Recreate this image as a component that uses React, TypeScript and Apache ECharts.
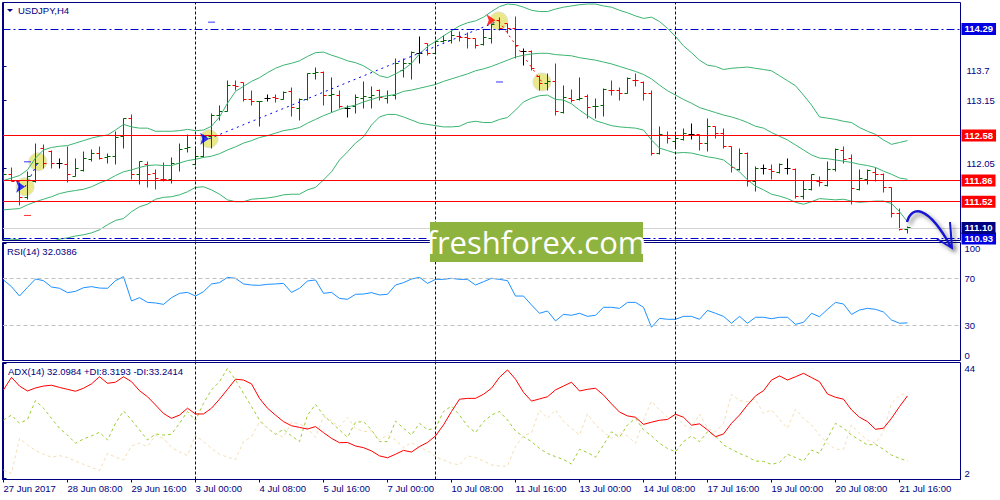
import React, { useEffect, useRef } from "react";
import * as echarts from "echarts";

const tickBars = [0, 8, 16, 24, 32, 40, 48, 56, 64, 72, 80, 88, 96, 104, 112];
const tickLabels = ["27 Jun 2017", "28 Jun 08:00", "29 Jun 16:00", "3 Jul 00:00", "4 Jul 08:00", "5 Jul 16:00", "7 Jul 00:00", "10 Jul 08:00", "11 Jul 16:00", "13 Jul 00:00", "14 Jul 08:00", "17 Jul 16:00", "19 Jul 00:00", "20 Jul 08:00", "21 Jul 16:00"];
const sessionBars = [24, 54, 84];

const opens = [
  111.84, 111.96, 111.84, 111.59, 111.84, 112.38, 112.32, 112.13, 112.12, 111.93,
  112.02, 112.20, 112.29, 112.23, 112.24, 112.57, 112.86, 111.96, 112.12, 111.98,
  111.88, 111.87, 112.14, 112.38, 112.12, 112.24, 112.56, 112.90, 112.97, 113.38,
  113.43, 113.16, 113.12, 113.18, 113.19, 113.16, 113.28, 113.02, 113.16, 113.57,
  113.60, 113.23, 113.23, 113.02, 113.04, 113.18, 113.19, 113.31, 113.18, 113.23,
  113.62, 113.74, 113.90, 114.05, 113.90, 114.09, 114.10, 114.17, 114.15, 114.14,
  114.04, 114.14, 114.43, 114.38, 114.30, 113.93, 113.93, 113.53, 113.41, 113.44,
  112.95, 113.18, 113.16, 113.20, 113.04, 113.07, 113.31, 113.30, 113.26, 113.47,
  113.43, 113.25, 112.30, 112.58, 112.48, 112.52, 112.60, 112.59, 112.46, 112.72,
  112.62, 112.40, 112.03, 112.30, 111.84, 112.05, 112.03, 111.99, 112.05, 112.03,
  111.60, 111.71, 111.84, 111.78, 112.03, 112.34, 112.22, 111.71, 111.88, 111.99,
  111.96, 111.75, 111.33, 111.08,
];
const highs = [
  112.00, 112.07, 111.83, 112.00, 112.46, 112.44, 112.34, 112.21, 112.41, 112.22,
  112.32, 112.36, 112.41, 112.30, 112.64, 112.86, 112.92, 112.17, 112.17, 112.04,
  112.15, 112.23, 112.46, 112.60, 112.40, 112.60, 112.94, 113.07, 113.46, 113.46,
  113.43, 113.30, 113.13, 113.24, 113.24, 113.28, 113.35, 113.17, 113.58, 113.68,
  113.61, 113.51, 113.31, 113.06, 113.24, 113.45, 113.37, 113.32, 113.30, 113.81,
  113.81, 113.93, 114.17, 114.06, 114.10, 114.19, 114.27, 114.25, 114.24, 114.14,
  114.28, 114.38, 114.48, 114.38, 114.49, 113.98, 113.95, 113.55, 113.57, 113.73,
  113.38, 113.32, 113.51, 113.24, 113.18, 113.33, 113.46, 113.35, 113.51, 113.57,
  113.45, 113.30, 112.73, 112.64, 112.59, 112.69, 112.77, 112.60, 112.86, 112.72,
  112.69, 112.41, 112.38, 112.31, 112.09, 112.11, 112.12, 112.14, 112.22, 112.06,
  111.86, 111.96, 111.92, 112.17, 112.38, 112.41, 112.27, 112.03, 112.04, 112.07,
  111.98, 111.75, 111.41, 111.13,
];
const lows = [
  111.83, 111.84, 111.46, 111.56, 111.83, 112.06, 112.05, 112.06, 111.83, 111.92,
  112.00, 112.16, 112.20, 112.14, 112.12, 112.37, 111.88, 111.80, 111.74, 111.71,
  111.84, 111.82, 112.00, 112.31, 112.10, 112.23, 112.38, 112.82, 112.96, 113.30,
  113.13, 113.07, 112.72, 113.13, 113.11, 113.16, 112.88, 112.82, 113.14, 113.48,
  113.07, 112.95, 113.02, 112.87, 112.94, 113.02, 113.02, 113.14, 113.10, 113.16,
  113.51, 113.48, 113.74, 113.86, 113.89, 114.07, 114.05, 114.09, 113.97, 113.97,
  114.02, 114.06, 114.26, 114.21, 113.82, 113.70, 113.63, 113.30, 113.31, 112.91,
  112.94, 113.11, 113.14, 112.85, 112.86, 112.88, 113.23, 113.15, 113.25, 113.36,
  113.14, 112.26, 112.28, 112.46, 112.38, 112.50, 112.51, 112.34, 112.32, 112.54,
  112.38, 111.99, 112.02, 111.76, 111.68, 111.96, 111.87, 111.98, 111.96, 111.57,
  111.56, 111.70, 111.77, 111.76, 112.00, 112.14, 111.47, 111.70, 111.80, 111.84,
  111.66, 111.26, 111.06, 111.01,
];
const closes = [
  111.96, 111.85, 111.59, 111.92, 112.14, 112.14, 112.14, 112.13, 111.96, 112.06,
  112.22, 112.30, 112.22, 112.24, 112.55, 112.86, 111.96, 112.16, 111.95, 111.90,
  111.87, 112.14, 112.35, 112.39, 112.24, 112.57, 112.90, 112.97, 113.38, 113.36,
  113.16, 113.13, 113.13, 113.18, 113.17, 113.27, 113.03, 113.16, 113.57, 113.60,
  113.22, 113.24, 113.04, 113.02, 113.19, 113.20, 113.23, 113.19, 113.22, 113.74,
  113.74, 113.92, 113.90, 113.90, 114.09, 114.11, 114.19, 114.15, 114.14, 114.03,
  114.15, 114.37, 114.29, 114.30, 114.02, 113.93, 113.66, 113.42, 113.45, 112.96,
  113.19, 113.15, 113.18, 113.03, 113.05, 113.32, 113.30, 113.26, 113.50, 113.46,
  113.26, 112.30, 112.59, 112.54, 112.54, 112.62, 112.60, 112.46, 112.72, 112.62,
  112.41, 112.07, 112.30, 111.84, 112.06, 112.05, 112.00, 112.12, 112.05, 111.61,
  111.71, 111.96, 111.83, 112.03, 112.35, 112.20, 111.73, 111.90, 112.02, 111.95,
  111.75, 111.33, 111.07, 111.11,
];
const bandUpper = [
  111.86, 111.90, 111.94, 112.03, 112.22, 112.35, 112.39, 112.41, 112.42, 112.46,
  112.50, 112.54, 112.57, 112.59, 112.67, 112.76, 112.72, 112.70, 112.70, 112.65,
  112.65, 112.65, 112.66, 112.68, 112.66, 112.67, 112.73, 112.88, 113.10, 113.29,
  113.37, 113.45, 113.51, 113.59, 113.66, 113.71, 113.74, 113.78, 113.85, 113.91,
  113.92, 113.87, 113.83, 113.78, 113.75, 113.70, 113.62, 113.54, 113.51, 113.57,
  113.64, 113.74, 113.89, 114.01, 114.09, 114.18, 114.26, 114.34, 114.39, 114.42,
  114.48, 114.57, 114.65, 114.69, 114.68, 114.64, 114.59, 114.57, 114.57, 114.61,
  114.64, 114.66, 114.68, 114.69, 114.69, 114.66, 114.64, 114.59, 114.55, 114.50,
  114.46, 114.48, 114.41, 114.30, 114.17, 114.02, 113.91, 113.79, 113.71, 113.69,
  113.64, 113.66, 113.67, 113.68, 113.66, 113.64, 113.62, 113.54, 113.46, 113.38,
  113.23, 113.07, 112.88, 112.86, 112.84, 112.81, 112.79, 112.71, 112.65, 112.60,
  112.51, 112.44, 112.47, 112.50,
];
const bandMiddle = [
  111.39, 111.40, 111.41, 111.47, 111.52, 111.56, 111.60, 111.65, 111.68, 111.70,
  111.72, 111.76, 111.82, 111.87, 111.94, 112.00, 112.03, 112.07, 112.10, 112.11,
  112.10, 112.10, 112.14, 112.18, 112.20, 112.23, 112.25, 112.29, 112.35, 112.40,
  112.46, 112.50, 112.55, 112.58, 112.62, 112.66, 112.68, 112.71, 112.78, 112.84,
  112.90, 112.95, 113.00, 113.04, 113.07, 113.12, 113.16, 113.20, 113.22, 113.24,
  113.29, 113.31, 113.34, 113.37, 113.40, 113.45, 113.49, 113.53, 113.57, 113.62,
  113.65, 113.69, 113.74, 113.79, 113.84, 113.87, 113.89, 113.90, 113.90, 113.88,
  113.87, 113.86, 113.83, 113.81, 113.79, 113.76, 113.73, 113.69, 113.65, 113.61,
  113.56, 113.49, 113.39, 113.30, 113.23, 113.16, 113.10, 113.03, 112.99, 112.95,
  112.91, 112.88, 112.84, 112.79, 112.73, 112.70, 112.63, 112.57, 112.51, 112.43,
  112.35, 112.27, 112.22, 112.21, 112.19, 112.17, 112.15, 112.12, 112.10, 112.07,
  112.01, 111.96, 111.90, 111.88,
];
const bandLower = [
  110.92, 110.92, 110.91, 110.88, 110.86, 110.86, 110.88, 110.92, 110.94, 110.97,
  110.99, 111.02, 111.07, 111.15, 111.22, 111.25, 111.36, 111.44, 111.48, 111.56,
  111.59, 111.60, 111.63, 111.68, 111.75, 111.76, 111.71, 111.64, 111.55, 111.52,
  111.52, 111.56, 111.57, 111.58, 111.60, 111.63, 111.64, 111.64, 111.71, 111.75,
  111.87, 112.00, 112.19, 112.32, 112.46, 112.56, 112.75, 112.88, 112.92, 112.92,
  112.88, 112.83, 112.78, 112.76, 112.74, 112.72, 112.72, 112.73, 112.79, 112.81,
  112.79, 112.79, 112.84, 112.87, 112.99, 113.12, 113.18, 113.22, 113.23, 113.16,
  113.15, 113.09, 112.99, 112.90, 112.82, 112.78, 112.74, 112.72, 112.71, 112.70,
  112.67, 112.51, 112.38, 112.34, 112.30, 112.31, 112.30, 112.27, 112.24, 112.22,
  112.19, 112.09, 112.00, 111.87, 111.77, 111.71, 111.64, 111.61, 111.57, 111.51,
  111.48, 111.52, 111.57, 111.56, 111.55, 111.56, 111.53, 111.51, 111.52, 111.53,
  111.53, 111.49, 111.36, 111.20,
];
const rsiValues = [
  68.6, 62.9, 54.9, 62.3, 69.4, 68.0, 62.6, 61.5, 57.8, 58.9,
  62.0, 62.9, 61.7, 61.5, 68.0, 71.4, 50.7, 53.5, 49.5, 49.0,
  47.8, 53.5, 57.2, 58.0, 54.9, 58.6, 65.2, 66.3, 70.8, 70.0,
  65.2, 64.3, 64.0, 64.9, 65.2, 65.7, 58.0, 61.5, 67.7, 68.6,
  57.2, 58.0, 52.9, 52.1, 56.4, 56.6, 57.8, 55.8, 56.4, 64.3,
  66.3, 69.4, 70.8, 65.7, 69.1, 69.1, 70.0, 69.1, 69.1, 64.3,
  67.1, 70.0, 69.1, 68.0, 54.9, 54.9, 47.3, 40.2, 42.2, 33.7,
  39.3, 38.5, 40.2, 37.6, 38.5, 45.3, 45.3, 44.4, 49.5, 49.5,
  45.3, 28.3, 35.9, 35.1, 35.1, 37.6, 37.6, 35.1, 42.7, 40.2,
  37.6, 31.7, 37.6, 31.7, 36.8, 36.8, 35.6, 36.8, 36.8, 30.8,
  32.5, 40.2, 37.3, 43.6, 49.5, 48.1, 39.3, 43.0, 44.4, 43.6,
  41.3, 34.5, 31.7, 32.04,
];
const adxValues = [
  34.3, 38.9, 35.7, 33.9, 35.0, 35.7, 36.0, 35.2, 34.5, 33.8,
  34.9, 36.5, 39.1, 36.7, 37.1, 39.1, 37.3, 34.0, 31.8, 28.8,
  25.7, 23.9, 25.1, 27.6, 25.5, 25.5, 27.6, 30.9, 34.5, 38.2,
  37.9, 36.5, 31.2, 27.6, 25.1, 22.7, 21.2, 20.6, 20.0, 20.9,
  18.7, 16.6, 15.0, 15.1, 13.8, 13.2, 12.0, 10.2, 9.5, 10.8,
  12.2, 11.6, 13.6, 15.1, 17.5, 21.5, 26.4, 30.9, 31.2, 31.2,
  32.7, 34.9, 38.9, 41.6, 38.2, 33.4, 30.2, 31.0, 31.8, 34.3,
  35.7, 37.1, 33.9, 34.5, 34.9, 32.4, 29.2, 26.2, 24.8, 24.3,
  21.7, 22.5, 23.2, 23.5, 25.4, 24.3, 21.4, 21.9, 19.7, 17.2,
  18.2, 22.1, 25.1, 28.8, 32.1, 34.0, 37.9, 39.4, 37.9, 39.1,
  40.35, 38.8, 37.3, 32.8, 31.6, 30.9, 27.0, 24.3, 22.7, 19.9,
  20.3, 23.9, 28.2, 32.1,
];
const plusDi = [
  23.3, 25.1, 22.1, 23.5, 30.4, 27.6, 23.9, 20.3, 17.8, 14.8,
  16.4, 17.5, 18.8, 16.0, 22.1, 26.6, 23.3, 19.7, 16.0, 18.2,
  17.8, 18.1, 22.1, 26.4, 23.1, 29.4, 34.3, 37.3, 42.2, 37.9,
  33.0, 28.2, 23.3, 20.3, 18.1, 19.9, 17.5, 15.4, 25.1, 29.0,
  25.1, 22.3, 19.7, 17.0, 22.5, 22.7, 19.7, 15.4, 15.4, 22.9,
  20.3, 17.8, 22.1, 19.7, 20.3, 26.4, 28.4, 25.1, 21.1, 18.7,
  22.7, 25.1, 26.4, 23.3, 19.3, 17.2, 15.4, 12.9, 11.1, 9.9,
  8.9, 7.2, 12.6, 11.4, 9.7, 14.2, 19.0, 17.0, 21.5, 23.9,
  19.7, 17.5, 14.8, 12.9, 11.7, 15.4, 17.5, 15.4, 19.0, 17.5,
  14.2, 12.6, 11.1, 9.9, 8.3, 8.2, 7.1, 7.8, 10.8, 9.6,
  8.3, 12.3, 11.1, 16.6, 22.1, 20.3, 17.8, 16.0, 14.2, 14.4,
  12.6, 10.5, 9.3, 8.32,
];
const minusDi = [
  5.0, 3.8, 16.6, 14.2, 12.1, 10.8, 9.7, 10.3, 9.6, 8.3,
  7.1, 6.0, 4.8, 11.1, 9.7, 8.7, 13.8, 14.8, 13.6, 17.8,
  16.6, 13.3, 11.7, 10.3, 17.8, 15.4, 12.9, 10.8, 9.7, 8.9,
  15.4, 17.2, 22.7, 20.3, 18.4, 17.0, 22.5, 21.9, 20.3, 17.0,
  24.5, 22.9, 20.9, 24.3, 20.3, 19.0, 19.4, 16.0, 17.8, 16.0,
  13.2, 15.1, 13.3, 12.1, 9.9, 8.7, 7.5, 6.9, 10.2, 9.6,
  8.3, 6.9, 6.5, 6.5, 13.6, 17.5, 18.7, 27.0, 23.9, 27.0,
  22.7, 20.3, 17.8, 25.5, 21.5, 19.0, 16.6, 18.7, 17.5, 14.8,
  23.3, 30.2, 27.0, 24.3, 25.1, 21.5, 20.3, 25.5, 20.3, 19.0,
  22.1, 32.7, 30.4, 30.0, 30.9, 25.7, 27.0, 23.5, 20.3, 27.2,
  23.9, 21.5, 17.8, 14.8, 12.6, 12.6, 21.5, 18.4, 16.0, 14.8,
  19.0, 29.4, 32.4, 33.24,
];

const redLevels = [112.58, 111.86, 111.52];
const blueLevels = [114.29, 110.93];
const bidLevel = 111.1;
const priceTicks = [112.05, 113.15, 113.7];
const rsiTicks = [0, 30, 70, 100];
const adxTicks = [2, 44];

const highlightPoints = [[2.7, 111.76], [4.3, 112.16], [25.7, 112.53], [61.9, 114.42], [67.3, 113.44]];
const buyArrows = [[2.7, 111.76], [25.7, 112.53]];
const sellArrows = [[61.5, 114.43]];
const blueDashes = [[3, 112.16], [26, 114.4], [62, 113.44]];
const redDashes = [[3, 111.3]];
const trendShort = [[2.7, 111.76], [4.4, 112.17]];
const trendLong = [[25.7, 112.53], [61.5, 114.4]];
const trendDown = [[61.9, 114.42], [67.3, 113.44]];

const NAVY = "#000080";
const FONT = "Liberation Sans";
const FONT_SIZE = 9.5;
const withIndex = (values: number[]) => values.map((v, i) => [i, v]);

const X_MIN = -0.125;
const X_MAX = 119.625;

const renderBar = (_: any, api: any) => {
  const i = api.value(0);
  const o = api.value(1);
  const h = api.value(2);
  const l = api.value(3);
  const c = api.value(4);
  const color = c > o ? "#006400" : c < o ? "#ff0000" : "#000000";
  const x = Math.round(api.coord([i, o])[0] - 0.5) + 0.5;
  const yOf = (v: number) => Math.round(api.coord([i, v])[1] - 0.5) + 0.5;
  const style = { stroke: color, lineWidth: 1, fill: "none" };
  return {
    type: "group",
    children: [
      { type: "line", shape: { x1: x, y1: yOf(h), x2: x, y2: yOf(l) }, style },
      { type: "line", shape: { x1: x - 3, y1: yOf(o), x2: x, y2: yOf(o) }, style },
      { type: "line", shape: { x1: x, y1: yOf(c), x2: x + 3, y2: yOf(c) }, style },
    ],
  };
};

const boxLabel = (bg: string) => ({
  show: true,
  position: "end",
  distance: 1,
  formatter: (p: any) => Number(p.value).toFixed(2),
  backgroundColor: bg,
  color: "#ffffff",
  fontFamily: FONT,
  fontSize: FONT_SIZE,
  fontWeight: "bold",
  padding: [1, 3, 1, 3],
});

const xAxisBase = (gridIndex: number, show: boolean) => ({
  type: "value",
  gridIndex,
  min: X_MIN,
  max: X_MAX,
  show,
  splitLine: { show: false },
  axisLine: { show, lineStyle: { color: NAVY } },
  axisTick: { show, customValues: tickBars, length: 3, lineStyle: { color: NAVY } },
  axisLabel: {
    show,
    customValues: tickBars,
    align: "left",
    margin: 4,
    color: NAVY,
    fontFamily: FONT,
    fontSize: FONT_SIZE,
    formatter: (v: number) => tickLabels[tickBars.indexOf(v)] ?? "",
  },
});

const yAxisBase = (gridIndex: number, min: number, max: number, ticks: number[], margin: number) => ({
  type: "value",
  gridIndex,
  position: "right",
  min,
  max,
  splitLine: { show: false },
  axisLine: { show: true, lineStyle: { color: NAVY } },
  axisTick: { show: true, customValues: ticks, length: 3, lineStyle: { color: NAVY } },
  axisLabel: {
    show: true,
    customValues: ticks,
    margin,
    color: NAVY,
    fontFamily: FONT,
    fontSize: FONT_SIZE,
    verticalAlignMaxLabel: "top",
    verticalAlignMinLabel: "bottom",
  },
});

const thinLine = (name: string, values: number[], color: string, xi: number, extra: any = {}) => ({
  name,
  type: "line",
  xAxisIndex: xi,
  yAxisIndex: xi,
  data: withIndex(values),
  showSymbol: false,
  symbol: "none",
  smooth: false,
  lineStyle: { color, width: 1, ...extra },
  z: 3,
});

const trend = (data: number[][], color: string) => ({
  type: "line",
  xAxisIndex: 0,
  yAxisIndex: 0,
  data,
  symbol: "none",
  lineStyle: { color, width: 1, type: [2, 4] },
  z: 4,
});

const buildOption = () => ({
  animation: false,
  backgroundColor: "#ffffff",
  grid: [
    { left: 2.5, top: 2.5, width: 958, height: 238 },
    { left: 2.5, top: 242.5, width: 958, height: 118 },
    { left: 2.5, top: 362.5, width: 958, height: 117 },
    { left: 2.5, top: 2.5, width: 958, height: 477 },
  ],
  xAxis: [xAxisBase(0, false), xAxisBase(1, false), xAxisBase(2, true), xAxisBase(3, false)],
  yAxis: [
    yAxisBase(0, 110.898, 114.715, priceTicks, 6),
    yAxisBase(1, 0, 100.5, rsiTicks, 4),
    yAxisBase(2, 1.57, 44.3, adxTicks, 4),
    { type: "value", gridIndex: 3, show: false, min: 0, max: 1 },
  ],
  series: [
    {
      type: "scatter",
      xAxisIndex: 0,
      yAxisIndex: 0,
      data: highlightPoints,
      symbol: "circle",
      symbolSize: 18,
      itemStyle: { color: "#e3e36c", borderColor: "#dcdcdc", borderWidth: 1 },
      z: 1,
    },
    thinLine("Upper", bandUpper, "#3cb371", 0),
    thinLine("Middle", bandMiddle, "#3cb371", 0),
    thinLine("Lower", bandLower, "#3cb371", 0),
    {
      type: "custom",
      xAxisIndex: 0,
      yAxisIndex: 0,
      renderItem: renderBar,
      encode: { x: 0, y: [1, 2, 3, 4] },
      data: opens.map((o, i) => [i, o, highs[i], lows[i], closes[i]]),
      clip: true,
      z: 3,
    },
    trend(trendShort, "#0000ff"),
    trend(trendLong, "#0000ff"),
    trend(trendDown, "#ff0000"),
    {
      type: "scatter",
      xAxisIndex: 0,
      yAxisIndex: 0,
      data: buyArrows,
      symbol: "arrow",
      symbolRotate: -90,
      symbolSize: 9,
      itemStyle: { color: "#0000ff" },
      z: 5,
    },
    {
      type: "scatter",
      xAxisIndex: 0,
      yAxisIndex: 0,
      data: sellArrows,
      symbol: "arrow",
      symbolRotate: -90,
      symbolSize: 9,
      itemStyle: { color: "#ff0000" },
      z: 5,
    },
    {
      type: "scatter",
      xAxisIndex: 0,
      yAxisIndex: 0,
      data: blueDashes,
      symbol: "rect",
      symbolSize: [7, 1],
      itemStyle: { color: "#0000ff" },
      z: 5,
    },
    {
      type: "scatter",
      xAxisIndex: 0,
      yAxisIndex: 0,
      data: redDashes,
      symbol: "rect",
      symbolSize: [7, 1],
      itemStyle: { color: "#ff0000" },
      z: 5,
    },
    {
      type: "line",
      xAxisIndex: 0,
      yAxisIndex: 0,
      data: [],
      symbol: "none",
      z: 4,
      markLine: {
        silent: true,
        symbol: "none",
        animation: false,
        data: [
          ...redLevels.map((v) => ({
            yAxis: v,
            lineStyle: { color: "#ff0000", width: 1, type: "solid" },
            label: boxLabel("#ff0000"),
          })),
          ...blueLevels.map((v) => ({
            yAxis: v,
            lineStyle: { color: "#0000cd", width: 1, type: [8, 3, 2, 3] },
            label: boxLabel("#0000e0"),
          })),
          {
            yAxis: bidLevel,
            lineStyle: { color: "#d3d3d3", width: 1, type: "solid" },
            label: boxLabel(NAVY),
          },
        ],
      },
    },
    thinLine("RSI", rsiValues, "#1e90ff", 1),
    {
      type: "line",
      xAxisIndex: 1,
      yAxisIndex: 1,
      data: [],
      symbol: "none",
      markLine: {
        silent: true,
        symbol: "none",
        animation: false,
        label: { show: false },
        lineStyle: { color: "#c0c0c0", width: 1, type: [4, 3] },
        data: [{ yAxis: 70 }, { yAxis: 30 }],
      },
    },
    thinLine("+DI", plusDi, "#9acd32", 2, { type: [3, 3] }),
    thinLine("-DI", minusDi, "#f5deb3", 2, { type: [3, 3] }),
    thinLine("ADX", adxValues, "#ff0000", 2),
    {
      type: "line",
      xAxisIndex: 3,
      yAxisIndex: 3,
      data: [],
      symbol: "none",
      markLine: {
        silent: true,
        symbol: "none",
        animation: false,
        label: { show: false },
        lineStyle: { color: NAVY, width: 1, type: [3, 2] },
        data: sessionBars.map((b) => ({ xAxis: b })),
      },
      z: 2,
    },
  ],
  graphic: [
    { type: "rect", silent: true, z: 6, shape: { x: 2.5, y: 2.5, width: 958, height: 238 }, style: { fill: "none", stroke: NAVY, lineWidth: 1 } },
    { type: "rect", silent: true, z: 6, shape: { x: 2.5, y: 242.5, width: 958, height: 118 }, style: { fill: "none", stroke: NAVY, lineWidth: 1 } },
    { type: "rect", silent: true, z: 6, shape: { x: 2.5, y: 362.5, width: 958, height: 117 }, style: { fill: "none", stroke: NAVY, lineWidth: 1 } },
    { type: "polygon", silent: true, z: 6, shape: { points: [[7, 9], [13, 9], [10, 12]] }, style: { fill: NAVY } },
    { type: "text", silent: true, z: 6, x: 18, y: 5, style: { text: "USDJPY,H4", fill: NAVY, font: `${FONT_SIZE}px '${FONT}'` } },
    { type: "text", silent: true, z: 6, x: 7, y: 246, style: { text: "RSI(14) 32.0386", fill: NAVY, font: `${FONT_SIZE}px '${FONT}'` } },
    { type: "text", silent: true, z: 6, x: 8, y: 366, style: { text: "ADX(14) 32.0984 +DI:8.3193 -DI:33.2414", fill: NAVY, font: `${FONT_SIZE}px '${FONT}'` } },
    { type: "rect", silent: true, z: 20, shape: { x: 430, y: 222, width: 213, height: 40 }, style: { fill: "#8fb33f" } },
    {
      type: "text",
      silent: true,
      z: 21,
      x: 536.5,
      y: 242,
      style: { text: "freshforex.com", fill: "#ffffff", font: "31px 'Open Sans'", textAlign: "center", textVerticalAlign: "middle" },
    },
    {
      type: "bezierCurve",
      silent: true,
      z: 22,
      shape: { x1: 907, y1: 222, cpx1: 912, cpy1: 205, cpx2: 928, cpy2: 205, x2: 951, y2: 247 },
      style: { fill: "none", stroke: "#1414d2", lineWidth: 2.5, shadowBlur: 4, shadowColor: "rgba(0,0,0,0.5)", shadowOffsetX: 3, shadowOffsetY: 3 },
    },
    {
      type: "polyline",
      silent: true,
      z: 22,
      shape: { points: [[950, 222], [952, 248], [937, 239]] },
      style: { fill: "none", stroke: "#1414d2", lineWidth: 2, shadowBlur: 4, shadowColor: "rgba(0,0,0,0.5)", shadowOffsetX: 3, shadowOffsetY: 3 },
    },
  ],
});

export default function App() {
  const ref = useRef<HTMLDivElement>(null);
  useEffect(() => {
    document.body.style.margin = "0";
    const chart = echarts.init(ref.current!, undefined, { renderer: "svg" });
    chart.setOption(buildOption() as any);
    return () => chart.dispose();
  }, []);
  return <div ref={ref} style={{ width: 1000, height: 500 }} />;
}
